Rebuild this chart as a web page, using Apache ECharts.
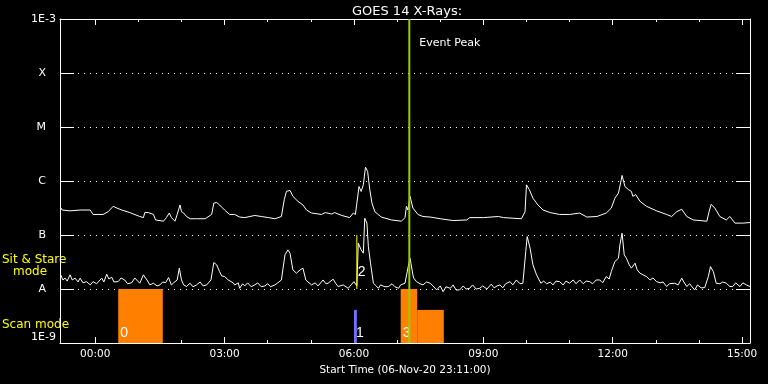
<!DOCTYPE html>
<html><head><meta charset="utf-8">
<script src="https://cdn.jsdelivr.net/npm/echarts@6/dist/echarts.min.js"></script>
<style>html,body{margin:0;padding:0;background:#000}#c{width:768px;height:384px}</style>
</head><body><div id="c"></div>
<script>
// time in minutes after 00:00 (start 23:11 on 06-Nov-20 = -49)
const xMin = -49, xMax = 911;
const majorTicks = [0, 180, 360, 540, 720, 900];
const xTickLabels = ['00:00', '03:00', '06:00', '09:00', '12:00', '15:00'];
const minorTicks = [60, 120, 240, 300, 420, 480, 600, 660, 780, 840];
const yTickValues = [1e-9, 1e-8, 1e-7, 1e-6, 1e-5, 1e-4, 1e-3];
const yTickLabels = ['1E-9', 'A', 'B', 'C', 'M', 'X', '1E-3'];
const titleText = 'GOES 14 X-Rays:';
const xAxisName = 'Start Time (06-Nov-20 23:11:00)';

// long channel (upper curve) [minute, W/m^2]
const longChannel = [[-48,3.2e-7],[-46,2.9e-7],[-35,2.8e-7],[-21,2.9e-7],[-7,2.9e-7],[-3,2.4e-7],[11,2.4e-7],[18,2.7e-7],[25,3.4e-7],[29,3.2e-7],[37,2.9e-7],[48,2.6e-7],[62,2.2e-7],[67,2.1e-7],[69,2.6e-7],[74,2.6e-7],[81,2.4e-7],[84,1.9e-7],[95,1.8e-7],[99,2.1e-7],[103,2.55e-7],[106,2.1e-7],[111,1.8e-7],[114,2.4e-7],[118,3.6e-7],[120,2.7e-7],[123,2.55e-7],[127,2.2e-7],[132,2.0e-7],[141,2.0e-7],[153,2.0e-7],[162,2.4e-7],[165,3.9e-7],[169,4.0e-7],[173,3.6e-7],[180,2.9e-7],[187,2.4e-7],[194,2.4e-7],[201,2.15e-7],[208,2.1e-7],[222,2.3e-7],[231,2.2e-7],[241,2.1e-7],[250,2.0e-7],[259,2.2e-7],[263,4.5e-7],[266,6.4e-7],[271,6.7e-7],[275,5.2e-7],[282,4.2e-7],[289,3.6e-7],[294,2.9e-7],[301,2.55e-7],[315,2.4e-7],[320,2.6e-7],[329,2.45e-7],[333,2.6e-7],[343,2.3e-7],[354,2.1e-7],[359,2.55e-7],[362,2.4e-7],[367,7.9e-7],[370,6.4e-7],[373,8.5e-7],[376,1.8e-6],[379,1.5e-6],[382,6.9e-7],[385,3.9e-7],[389,2.7e-7],[398,2.15e-7],[412,1.9e-7],[426,1.8e-7],[431,2.1e-7],[433,3.4e-7],[435,2.9e-7],[438,5.2e-7],[442,3.15e-7],[449,2.4e-7],[456,2.2e-7],[466,2.15e-7],[480,2.0e-7],[498,1.85e-7],[517,1.9e-7],[521,2.1e-7],[540,2.1e-7],[561,2.2e-7],[568,2.1e-7],[593,2.0e-7],[598,2.7e-7],[600,8.5e-7],[604,6.9e-7],[609,4.8e-7],[616,3.6e-7],[623,2.9e-7],[633,2.6e-7],[646,2.4e-7],[660,2.4e-7],[674,2.55e-7],[684,2.15e-7],[698,2.2e-7],[711,2.55e-7],[718,3.15e-7],[723,4.8e-7],[728,6.0e-7],[731,9.2e-7],[733,1.27e-6],[737,7.9e-7],[742,6.9e-7],[746,6.4e-7],[748,5.2e-7],[752,5.6e-7],[758,4.2e-7],[767,3.4e-7],[781,2.8e-7],[795,2.4e-7],[802,2.2e-7],[809,2.7e-7],[816,3.0e-7],[823,2.2e-7],[832,1.9e-7],[851,1.8e-7],[854,2.7e-7],[857,3.7e-7],[862,3.15e-7],[869,2.2e-7],[878,1.9e-7],[883,2.2e-7],[890,1.66e-7],[901,1.66e-7],[911,1.7e-7]];

// short channel (lower curve) [minute, W/m^2]
const shortChannel = [[-48,1.83e-8],[-45,1.47e-8],[-42,1.59e-8],[-39,1.4e-8],[-35,1.83e-8],[-32,1.47e-8],[-28,1.59e-8],[-24,1.35e-8],[-21,1.59e-8],[-17,1.3e-8],[-12,1.37e-8],[-7,1.19e-8],[-3,1.37e-8],[2,1.25e-8],[9,1.59e-8],[12,1.35e-8],[16,1.88e-8],[19,1.53e-8],[23,1.65e-8],[26,1.35e-8],[32,1.37e-8],[36,1.6e-8],[41,1.47e-8],[45,1.25e-8],[51,1.31e-8],[55,1.6e-8],[62,1.28e-8],[67,1.83e-8],[72,1.47e-8],[76,1.19e-8],[81,1.28e-8],[86,1.14e-8],[90,1.19e-8],[94,1.35e-8],[98,1.31e-8],[102,1.63e-8],[106,1.19e-8],[109,1.3e-8],[114,1.47e-8],[117,2.43e-8],[120,1.47e-8],[123,1.19e-8],[127,1.11e-8],[132,1.28e-8],[136,1.1e-8],[141,1.19e-8],[146,1.35e-8],[150,1.14e-8],[155,1.19e-8],[161,1.47e-8],[165,3.09e-8],[169,2.8e-8],[173,2.1e-8],[176,1.75e-8],[180,1.7e-8],[185,1.47e-8],[187,1.37e-8],[192,1.3e-8],[194,1.19e-8],[199,1.3e-8],[201,1.03e-8],[205,1.25e-8],[208,1.14e-8],[212,1.3e-8],[217,1.1e-8],[222,1.19e-8],[226,1.3e-8],[231,1.1e-8],[236,1.14e-8],[240,1.25e-8],[244,1.1e-8],[250,1.19e-8],[254,1.3e-8],[259,1.47e-8],[264,4.29e-8],[268,5.31e-8],[271,4.61e-8],[275,2.26e-8],[280,1.96e-8],[285,2.26e-8],[289,2.43e-8],[293,1.47e-8],[296,1.35e-8],[301,1.19e-8],[306,1.3e-8],[310,1.14e-8],[317,1.47e-8],[321,1.25e-8],[324,1.28e-8],[331,1.52e-8],[335,1.25e-8],[338,1.11e-8],[345,1.19e-8],[352,1.03e-8],[356,1.19e-8],[360,1.37e-8],[364,1.14e-8],[366,7.06e-8],[370,5.31e-8],[373,4.61e-8],[375,2.05e-7],[378,1.66e-7],[380,6.11e-8],[383,3.01e-8],[387,1.28e-8],[391,1.14e-8],[394,1.03e-8],[397,1.19e-8],[403,1.1e-8],[408,1.11e-8],[413,1.25e-8],[417,1.1e-8],[422,1.03e-8],[425,1.19e-8],[431,1.28e-8],[435,2.43e-8],[438,3.72e-8],[442,1.83e-8],[443,1.6e-8],[447,1.37e-8],[452,1.25e-8],[456,1.19e-8],[461,1.35e-8],[466,1.28e-8],[470,1.14e-8],[475,9.6e-9],[480,1.14e-8],[484,8.9e-9],[488,1.1e-8],[494,1.03e-8],[498,1.19e-8],[502,9.6e-9],[507,9.6e-9],[512,1.14e-8],[516,1.0e-8],[521,1.03e-8],[525,1.19e-8],[530,1.0e-8],[535,1.03e-8],[539,1.14e-8],[545,1.0e-8],[551,1.23e-8],[555,1.05e-8],[559,1.14e-8],[563,1.19e-8],[567,1.05e-8],[571,1.25e-8],[577,1.37e-8],[581,1.19e-8],[586,1.47e-8],[591,1.25e-8],[595,1.28e-8],[599,4.93e-8],[601,9.36e-8],[605,5.71e-8],[609,2.8e-8],[614,1.83e-8],[620,1.28e-8],[624,1.4e-8],[628,1.25e-8],[633,1.34e-8],[637,1.19e-8],[641,1.4e-8],[646,1.37e-8],[651,1.19e-8],[655,1.4e-8],[660,1.28e-8],[665,1.47e-8],[669,1.25e-8],[674,1.47e-8],[679,1.25e-8],[683,1.4e-8],[688,1.37e-8],[692,1.25e-8],[697,1.47e-8],[702,1.47e-8],[706,1.3e-8],[711,1.7e-8],[715,1.53e-8],[718,2.1e-8],[723,3.22e-8],[728,3.72e-8],[730,6.57e-8],[733,1.08e-7],[736,4.29e-8],[739,3.72e-8],[743,2.8e-8],[746,2.43e-8],[751,3.01e-8],[754,2.26e-8],[758,1.96e-8],[762,1.83e-8],[767,1.7e-8],[772,1.47e-8],[776,1.6e-8],[781,1.37e-8],[786,1.3e-8],[790,1.35e-8],[795,1.11e-8],[799,1.25e-8],[806,1.28e-8],[811,1.19e-8],[816,1.59e-8],[819,1.35e-8],[823,1.11e-8],[827,1.25e-8],[834,9.6e-9],[838,1.19e-8],[843,1.05e-8],[848,1.06e-8],[853,1.7e-8],[856,2.6e-8],[860,2.1e-8],[864,1.28e-8],[869,1.25e-8],[873,1.35e-8],[878,1.28e-8],[883,1.11e-8],[887,1.11e-8],[891,1.3e-8],[897,1.11e-8],[901,1.3e-8],[906,1.19e-8],[911,1.11e-8]];

// observation blocks: start, end (minutes), top level
const scanStart = [32, 360, 425, 448];
const scanEnd   = [94, 364, 448, 485];
const scanTop   = [1e-8, 4.1e-9, 1e-8, 4.1e-9];
const scanLabels = ['0', '1', '3', ''];
const scanColors = ['#ff8000', '#7070ff', '#ff8000', '#ff8000'];

// sit & stare marker
const stareTime = [364];
const stareLow = [1e-8];
const stareHigh = [1e-7];
const stareLabels = ['2'];

// event peak
const peakTime = [437];
const peakLabel = 'Event Peak';

const FONT = 'DejaVu Sans';
const WHITE = '#ffffff';

function makeX(position, major, showLabel) {
  const ax = {
    type: 'value', min: xMin, max: xMax, position: position,
    axisLine: { show: major, onZero: false, lineStyle: { color: WHITE, width: 1 } },
    axisTick: { show: true, inside: true, length: major ? 6 : 3,
      customValues: major ? majorTicks : minorTicks, lineStyle: { color: WHITE } },
    axisLabel: { show: false },
    splitLine: { show: false }
  };
  if (showLabel) {
    ax.axisLabel = { show: true, customValues: majorTicks, color: WHITE, fontFamily: FONT,
      fontSize: 10.5, margin: 6,
      formatter: v => xTickLabels[majorTicks.indexOf(v)] };
    ax.name = xAxisName;
    ax.nameLocation = 'middle';
    ax.nameGap = 19;
    ax.nameTextStyle = { color: WHITE, fontFamily: FONT, fontSize: 10.5 };
  }
  return ax;
}

const chart = echarts.init(document.getElementById('c'), null, { renderer: 'canvas' });
chart.setOption({
  backgroundColor: '#000',
  animation: false,
  title: { text: titleText, left: 402, top: 0, textAlign: 'center',
    textStyle: { color: WHITE, fontFamily: FONT, fontSize: 13, fontWeight: 'normal' } },
  grid: { left: 60, top: 19, width: 690, height: 324, containLabel: false },
  xAxis: [makeX('bottom', true, true), makeX('bottom', false, false), makeX('top', true, false), makeX('top', false, false)],
  yAxis: [
    { type: 'log', logBase: 10, min: 1e-9, max: 1e-3, position: 'left',
      axisLine: { show: true, onZero: false, lineStyle: { color: WHITE } },
      axisTick: { show: true, inside: true, length: 14, lineStyle: { color: WHITE } },
      axisLabel: { show: true, margin: 4,
        verticalAlignMinLabel: 'bottom', verticalAlignMaxLabel: 'top',
        formatter: v => {
          const i = yTickValues.findIndex(t => Math.abs(Math.log10(t) - Math.log10(v)) < 1e-6);
          const s = yTickLabels[i];
          if (i === 0 || i === yTickValues.length - 1) return '{e|' + s + '}';
          return '{l|' + s + '}';
        },
        rich: {
          e: { color: WHITE, fontFamily: FONT, fontSize: 11 },
          l: { color: WHITE, fontFamily: FONT, fontSize: 11, padding: [0, 10, 0, 0] }
        } },
      splitLine: { show: true, lineStyle: { color: WHITE, type: [1, 5], width: 1 } } },
    { type: 'log', logBase: 10, min: 1e-9, max: 1e-3, position: 'right',
      axisLine: { show: true, onZero: false, lineStyle: { color: WHITE } },
      axisTick: { show: true, inside: true, length: 14, lineStyle: { color: WHITE } },
      axisLabel: { show: false }, splitLine: { show: false } }
  ],
  graphic: [
    { type: 'text', left: 2, top: 254, style: { text: 'Sit & Stare', fill: '#ffff00', font: '12px "DejaVu Sans"' } },
    { type: 'text', left: 13, top: 266, style: { text: 'mode', fill: '#ffff00', font: '12px "DejaVu Sans"' } },
    { type: 'text', left: 2, top: 319, style: { text: 'Scan mode', fill: '#ffff00', font: '12px "DejaVu Sans"' } }
  ],
  series: [
    { type: 'custom', name: 'scan', xAxisIndex: 0, yAxisIndex: 0, z: 2,
      data: scanStart.map((s, i) => [s, scanEnd[i], scanTop[i]]),
      encode: { x: [0, 1], y: 2 },
      renderItem: (params, api) => {
        const i = params.dataIndex;
        const p0 = api.coord([api.value(0), api.value(2)]);
        const p1 = api.coord([api.value(1), 1e-9]);
        return { type: 'group', children: [
          { type: 'rect', shape: { x: p0[0], y: p0[1], width: p1[0] - p0[0], height: p1[1] - p0[1] },
            style: { fill: scanColors[i] } },
          { type: 'text', style: { text: scanLabels[i], x: p0[0] + 2, y: p1[1] - 10,
            fill: WHITE, font: '14px "Liberation Sans"', verticalAlign: 'middle', align: 'left' } }
        ] };
      } },
    { type: 'line', name: 'long', data: longChannel, showSymbol: false, symbol: 'none', z: 3,
      lineStyle: { color: WHITE, width: 1 }, smooth: false },
    { type: 'line', name: 'short', data: shortChannel, showSymbol: false, symbol: 'none', z: 3,
      lineStyle: { color: WHITE, width: 1 }, smooth: false },
    { type: 'custom', name: 'stare', z: 4,
      data: stareTime.map((t, i) => [t, stareLow[i], stareHigh[i]]),
      encode: { x: 0, y: [1, 2] },
      renderItem: (params, api) => {
        const i = params.dataIndex;
        const a = api.coord([api.value(0), api.value(1)]);
        const b = api.coord([api.value(0), api.value(2)]);
        return { type: 'group', children: [
          { type: 'line', shape: { x1: a[0], y1: a[1], x2: b[0], y2: b[1] }, style: { stroke: '#ffff00', lineWidth: 1 } },
          { type: 'text', style: { text: stareLabels[i], x: a[0] + 1, y: a[1] - 17, fill: WHITE,
            font: '14px "Liberation Sans"', verticalAlign: 'middle' } }
        ] };
      } },
    { type: 'custom', name: 'peak', z: 5,
      data: peakTime.map(t => [t]),
      encode: { x: 0 },
      renderItem: (params, api) => {
        const a = api.coord([api.value(0), 1e-3]);
        const b = api.coord([api.value(0), 1e-9]);
        return { type: 'group', children: [
          { type: 'line', shape: { x1: a[0], y1: a[1], x2: b[0], y2: b[1] }, style: { stroke: '#99cc00', lineWidth: 2 } },
          { type: 'text', style: { text: peakLabel, x: a[0] + 10, y: a[1] + 24, fill: WHITE,
            font: '11px "DejaVu Sans"', verticalAlign: 'middle' } }
        ] };
      } }
  ]
});
</script></body></html>
